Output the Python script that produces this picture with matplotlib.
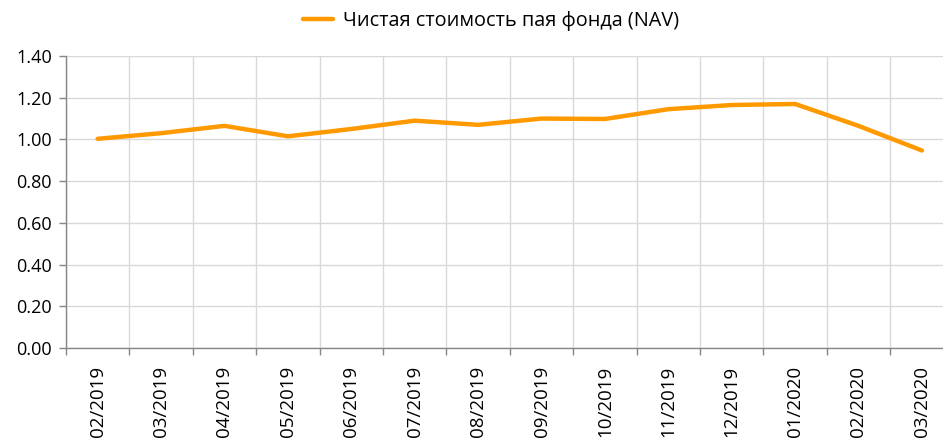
import matplotlib
matplotlib.use("Agg")
import matplotlib.pyplot as plt
from matplotlib.ticker import FixedLocator, MultipleLocator

months = ["02/2019", "03/2019", "04/2019", "05/2019", "06/2019", "07/2019", "08/2019",
          "09/2019", "10/2019", "11/2019", "12/2019", "01/2020", "02/2020", "03/2020"]
nav = [1.003, 1.030, 1.065, 1.015, 1.050, 1.090, 1.070, 1.100, 1.098, 1.145, 1.165, 1.170, 1.065, 0.947]
series_label = "Чистая стоимость пая фонда (NAV)"

plt.rcParams['font.family'] = ['Open Sans', 'DejaVu Sans']

W, H = 943, 438
fig = plt.figure(figsize=(W / 100, H / 100), dpi=100)
left_px, right_px, top_px, bot_px = 66, 943, 56, 348
ax = fig.add_axes([left_px / W, 1 - bot_px / H, (right_px - left_px) / W, (bot_px - top_px) / H])

x = list(range(len(months)))
line, = ax.plot(x, nav, color="#FF9900", lw=3.2, solid_capstyle="round", solid_joinstyle="round",
                label=series_label, zorder=3)

step = 63.4
ax.set_xlim(-0.5, -0.5 + (right_px - left_px) / step)
ax.set_ylim(0, 1.4)
ax.yaxis.set_major_locator(MultipleLocator(0.2))
ax.yaxis.set_major_formatter(matplotlib.ticker.FormatStrFormatter("%.2f"))

ax.set_xticks(x)
ax.set_xticklabels(months, rotation=90)
ax.xaxis.set_minor_locator(FixedLocator([i - 0.5 for i in range(len(months) + 1)]))
ax.tick_params(axis="x", which="major", length=0, pad=13, labelsize=13.5, colors="#000000")
ax.tick_params(axis="x", which="minor", length=5, color="#868686", width=1)
ax.tick_params(axis="y", length=5, color="#868686", width=1, labelsize=13, pad=5)

ax.grid(True, axis="y", which="major", color="#D9D9D9", lw=1)
ax.grid(True, axis="x", which="minor", color="#D9D9D9", lw=1)
ax.set_axisbelow(True)

for s in ["top", "right"]:
    ax.spines[s].set_visible(False)
for s in ["left", "bottom"]:
    ax.spines[s].set_color("#868686")
    ax.spines[s].set_linewidth(1)

fig.legend(handles=[line], labels=[series_label], loc="center",
           bbox_to_anchor=(491 / W, 1 - 21 / H), frameon=False, fontsize=14.3, handlelength=1.5,
           handletextpad=0.5, borderpad=0)

fig.savefig("out.png", dpi=100)
